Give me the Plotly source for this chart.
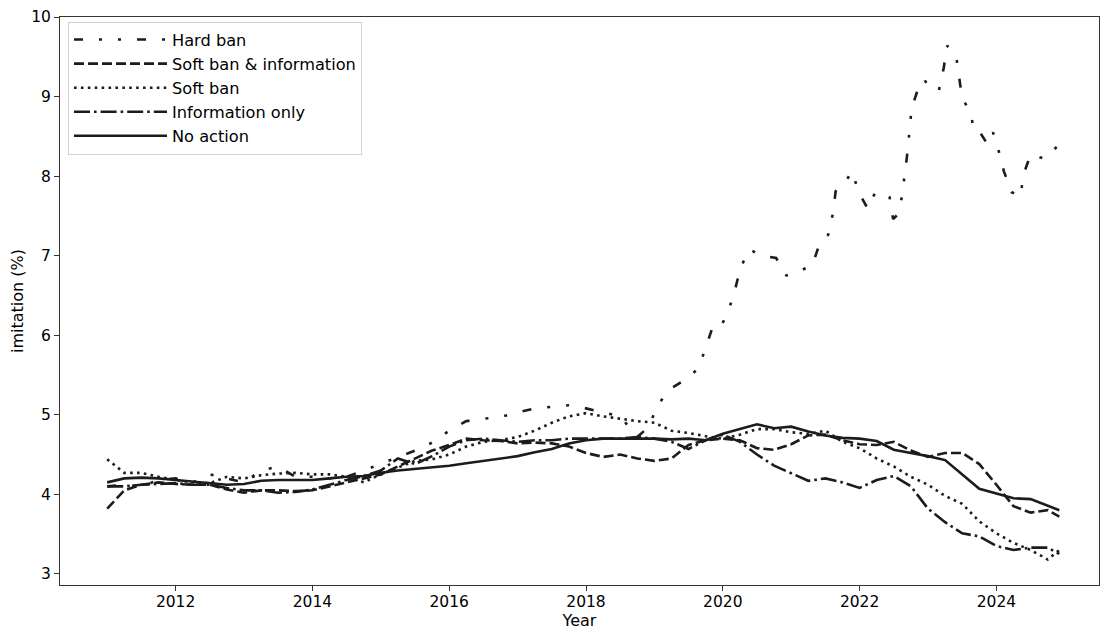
import plotly.graph_objects as go

# Shared quarterly time grid (decimal years)
t_q = [2011.0, 2011.25, 2011.5, 2011.75, 2012.0, 2012.25, 2012.5, 2012.75,
       2013.0, 2013.25, 2013.5, 2013.75, 2014.0, 2014.25, 2014.5, 2014.75,
       2015.0, 2015.25, 2015.5, 2015.75, 2016.0, 2016.25, 2016.5, 2016.75,
       2017.0, 2017.25, 2017.5, 2017.75, 2018.0, 2018.25, 2018.5, 2018.75,
       2019.0, 2019.25, 2019.5, 2019.75, 2020.0, 2020.25, 2020.5, 2020.75,
       2021.0, 2021.25, 2021.5, 2021.75, 2022.0, 2022.25, 2022.5, 2022.75,
       2023.0, 2023.25, 2023.5, 2023.75, 2024.0, 2024.25, 2024.5, 2024.75,
       2024.92]

no_action = [4.15, 4.20, 4.21, 4.20, 4.18, 4.16, 4.14, 4.12,
             4.13, 4.17, 4.18, 4.18, 4.18, 4.20, 4.22, 4.23,
             4.27, 4.30, 4.32, 4.34, 4.36, 4.39, 4.42, 4.45,
             4.48, 4.53, 4.57, 4.64, 4.68, 4.70, 4.70, 4.70,
             4.70, 4.69, 4.70, 4.68, 4.76, 4.82, 4.88, 4.83,
             4.85, 4.79, 4.74, 4.71, 4.70, 4.67, 4.56, 4.52,
             4.48, 4.43, 4.25, 4.07, 4.01, 3.95, 3.94, 3.86,
             3.80]

soft_ban = [4.44, 4.27, 4.27, 4.22, 4.18, 4.15, 4.14, 4.22,
            4.20, 4.24, 4.26, 4.27, 4.25, 4.25, 4.22, 4.15,
            4.25, 4.33, 4.42, 4.44, 4.50, 4.60, 4.66, 4.68,
            4.72, 4.80, 4.90, 4.98, 5.02, 4.98, 4.95, 4.92,
            4.90, 4.80, 4.77, 4.73, 4.70, 4.75, 4.82, 4.82,
            4.78, 4.76, 4.80, 4.66, 4.58, 4.45, 4.35, 4.22,
            4.12, 3.98, 3.88, 3.66, 3.51, 3.39, 3.30, 3.18,
            3.30]

soft_ban_info = [3.82, 4.05, 4.12, 4.15, 4.13, 4.12, 4.12, 4.06,
                 4.02, 4.05, 4.05, 4.04, 4.05, 4.10, 4.15, 4.20,
                 4.25, 4.35, 4.45, 4.55, 4.62, 4.70, 4.68, 4.67,
                 4.64, 4.65, 4.64, 4.60, 4.52, 4.47, 4.50, 4.45,
                 4.42, 4.45, 4.62, 4.68, 4.70, 4.68, 4.58, 4.56,
                 4.63, 4.74, 4.75, 4.68, 4.63, 4.62, 4.66, 4.55,
                 4.47, 4.52, 4.52, 4.38, 4.12, 3.85, 3.77, 3.80,
                 3.72]

info_only = [4.10, 4.10, 4.12, 4.13, 4.14, 4.12, 4.12, 4.08,
             4.05, 4.05, 4.02, 4.03, 4.06, 4.12, 4.18, 4.23,
             4.30, 4.45, 4.38, 4.48, 4.60, 4.68, 4.70, 4.68,
             4.66, 4.68, 4.68, 4.70, 4.70, 4.70, 4.70, 4.72,
             4.70, 4.66, 4.57, 4.68, 4.75, 4.66, 4.50, 4.36,
             4.26, 4.17, 4.20, 4.15, 4.08, 4.18, 4.23, 4.10,
             3.82, 3.65, 3.51, 3.47, 3.35, 3.30, 3.33, 3.33,
             3.25]

# Hard ban has its own, finer grid where it moves a lot
t_hard = [2011.0, 2011.25, 2011.5, 2011.75, 2012.0, 2012.25, 2012.5, 2012.75,
          2013.0, 2013.25, 2013.5, 2013.75, 2014.0, 2014.25, 2014.5, 2014.75,
          2015.0, 2015.25, 2015.5, 2015.75, 2016.0, 2016.25, 2016.5, 2016.75,
          2017.0, 2017.25, 2017.5, 2017.75, 2018.0, 2018.25, 2018.5, 2018.75,
          2018.92, 2019.04, 2019.22, 2019.47, 2019.64, 2019.75, 2019.85, 2019.97,
          2020.1, 2020.19, 2020.26, 2020.39, 2020.56, 2020.78, 2020.93, 2021.08,
          2021.31, 2021.41, 2021.54, 2021.61, 2021.65, 2021.77, 2021.89, 2021.99,
          2022.12, 2022.22, 2022.33, 2022.44, 2022.49, 2022.55, 2022.62, 2022.70,
          2022.76, 2022.84, 2022.94, 2023.03, 2023.16, 2023.23, 2023.28, 2023.41,
          2023.45, 2023.5, 2023.61, 2023.68, 2023.76, 2023.87, 2023.95, 2024.03,
          2024.11, 2024.22, 2024.35, 2024.4, 2024.5, 2024.7, 2024.9]

hard_ban = [4.10, 4.12, 4.10, 4.18, 4.20, 4.15, 4.25, 4.20,
            4.15, 4.30, 4.35, 4.22, 4.22, 4.20, 4.22, 4.30,
            4.38, 4.46, 4.55, 4.65, 4.80, 4.92, 4.95, 4.97,
            5.03, 5.08, 5.10, 5.12, 5.08, 5.03, 4.98, 4.72,
            4.85, 5.11, 5.32, 5.45, 5.58, 5.84, 6.10, 6.10,
            6.35, 6.61, 6.85, 7.08, 7.00, 6.97, 6.75, 6.79,
            6.88, 7.14, 7.26, 7.53, 7.81, 7.90, 8.06, 7.79,
            7.59, 7.78, 7.80, 7.73, 7.46, 7.51, 7.74, 8.30,
            8.85, 9.06, 9.22, 9.10, 9.08, 9.36, 9.64, 9.52,
            9.25, 8.97, 8.83, 8.56, 8.55, 8.40, 8.55, 8.33,
            8.06, 7.80, 7.74, 8.03, 8.27, 8.22, 8.38]

x_ticks = [2012, 2014, 2016, 2018, 2020, 2022, 2024]
y_ticks = [3, 4, 5, 6, 7, 8, 9, 10]

INK = "#1c1c1c"
LW = 2.6
FONT = "DejaVu Sans"

fig = go.Figure()
fig.add_trace(go.Scatter(x=t_hard, y=hard_ban, mode="lines", name="Hard ban",
                         line=dict(color=INK, width=LW, dash="9px,16px,3px,16px,3px,16px")))
fig.add_trace(go.Scatter(x=t_q, y=soft_ban_info, mode="lines", name="Soft ban & information",
                         line=dict(color=INK, width=LW, dash="10px,4px")))
fig.add_trace(go.Scatter(x=t_q, y=soft_ban, mode="lines", name="Soft ban",
                         line=dict(color=INK, width=LW, dash="2.6px,4.3px")))
fig.add_trace(go.Scatter(x=t_q, y=info_only, mode="lines", name="Information only",
                         line=dict(color=INK, width=LW, dash="16px,4px,2.6px,4px")))
fig.add_trace(go.Scatter(x=t_q, y=no_action, mode="lines", name="No action",
                         line=dict(color=INK, width=LW)))

axis_common = dict(showline=True, mirror=True, linecolor="#333333", linewidth=1,
                   ticks="outside", ticklen=5, tickwidth=1, tickcolor="#333333",
                   showgrid=False, zeroline=False,
                   tickfont=dict(family=FONT, size=15.5, color="black"))

fig.update_layout(
    width=1100, height=630,
    paper_bgcolor="white", plot_bgcolor="white",
    margin=dict(l=60, r=1, t=17, b=45),
    font=dict(family=FONT, size=15.5, color="black"),
    showlegend=True,
    hovermode=False,
    legend=dict(x=0.0077, y=0.992, xanchor="left", yanchor="top",
                bgcolor="rgba(255,255,255,0.9)", bordercolor="#d0d0d0", borderwidth=1,
                font=dict(family=FONT, size=16.2, color="black"),
                itemwidth=93, tracegroupgap=0),
    xaxis=dict(range=[2010.31, 2025.5], tickvals=x_ticks,
               ticktext=[str(v) for v in x_ticks], ticklabelstandoff=-3,
               title=dict(text="Year", font=dict(family=FONT, size=16, color="black"), standoff=2),
               **axis_common),
    yaxis=dict(range=[2.86, 10], tickvals=y_ticks,
               ticktext=[str(v) for v in y_ticks],
               title=dict(text="imitation (%)", font=dict(family=FONT, size=16, color="black"), standoff=3),
               **axis_common),
)

fig.write_html("out.html", config={"displayModeBar": False},
               post_script="document.body.style.margin='0px';")
